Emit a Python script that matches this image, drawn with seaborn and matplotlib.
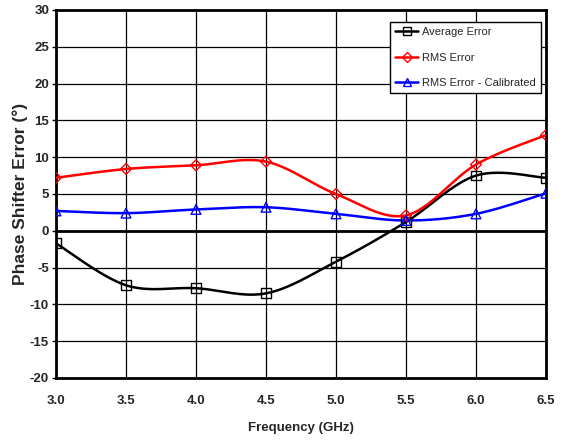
import numpy as np
import pandas as pd
import matplotlib
matplotlib.use("Agg")
import matplotlib.pyplot as plt
from matplotlib.lines import Line2D
import seaborn as sns

freq = [3.0, 3.5, 4.0, 4.5, 5.0, 5.5, 6.0, 6.5]
avg_error = [-1.7, -7.4, -7.8, -8.5, -4.2, 1.2, 7.5, 7.2]
rms_error = [7.2, 8.4, 8.9, 9.4, 5.0, 2.1, 9.0, 13.0]
rms_cal = [2.7, 2.4, 2.9, 3.2, 2.3, 1.4, 2.3, 5.1]
x_ticks = [3.0, 3.5, 4.0, 4.5, 5.0, 5.5, 6.0, 6.5]
y_ticks = [-20, -15, -10, -5, 0, 5, 10, 15, 20, 25, 30]


def smooth(x, y, n=30):
    # Excel-like smoothed line: cubic bezier with catmull-rom control points
    x = np.asarray(x, float)
    y = np.asarray(y, float)
    px, py = [], []
    for i in range(len(x) - 1):
        i0 = max(i - 1, 0)
        i3 = min(i + 2, len(x) - 1)
        c1x = x[i] + (x[i + 1] - x[i0]) / 6
        c1y = y[i] + (y[i + 1] - y[i0]) / 6
        c2x = x[i + 1] - (x[i3] - x[i]) / 6
        c2y = y[i + 1] - (y[i3] - y[i]) / 6
        t = np.linspace(0, 1, n)
        b = [(1 - t) ** 3, 3 * (1 - t) ** 2 * t, 3 * (1 - t) * t ** 2, t ** 3]
        px.extend(b[0] * x[i] + b[1] * c1x + b[2] * c2x + b[3] * x[i + 1])
        py.extend(b[0] * y[i] + b[1] * c1y + b[2] * c2y + b[3] * y[i + 1])
    return px, py


sns.set_style("white")
plt.rcParams['font.family'] = ['Liberation Sans', 'DejaVu Sans']

fig = plt.figure(figsize=(5.61, 4.41), dpi=100)
ax = fig.add_axes([56 / 561, 63 / 441, 490 / 561, 368 / 441])

series = [
    ("Average Error", avg_error, "black", "s", 7),
    ("RMS Error", rms_error, "red", "D", 5.5),
    ("RMS Error - Calibrated", rms_cal, "blue", "^", 7),
]

ax.grid(True, color="black", linewidth=0.9)
ax.set_axisbelow(True)
ax.axhline(0, color="black", linewidth=2, zorder=2)

handles = []
for name, vals, color, marker, ms in series:
    sx, sy = smooth(freq, vals)
    ax.plot(sx, sy, color=color, linewidth=1.8, zorder=3)
    df = pd.DataFrame({"x": freq, "y": vals})
    sns.scatterplot(data=df, x="x", y="y", ax=ax, marker=marker, s=ms ** 2,
                    facecolor="none", edgecolor=color, linewidth=1.0,
                    zorder=4, legend=False)
    handles.append(Line2D([0], [0], color=color, linewidth=1.8, marker=marker,
                          markersize=ms * 0.85, markerfacecolor="none",
                          markeredgecolor=color, markeredgewidth=1.0, label=name))

ax.set_xlim(3.0, 6.5)
ax.set_ylim(-20, 30)
ax.set_xticks(x_ticks)
ax.set_yticks(y_ticks)
ax.set_xticklabels([f"{v:.1f}" for v in x_ticks], fontsize=9.5, fontweight="bold")
ax.set_yticklabels([str(v) for v in y_ticks], fontsize=9.5, fontweight="bold")
ax.tick_params(axis="x", length=0, pad=12)
ax.tick_params(axis="y", left=True, length=3, width=1, color="black", pad=2)
for sp in ax.spines.values():
    sp.set_color("black")
    sp.set_linewidth(2)

ax.set_xlabel("Frequency (GHz)", fontsize=9.5, fontweight="bold", labelpad=11)
ax.set_ylabel("Phase Shifter Error (°)", fontsize=12.5, fontweight="bold")
ax.yaxis.set_label_coords(-0.057, 0.5)

leg = ax.legend(handles=handles, loc="upper right", bbox_to_anchor=(0.99, 0.967),
                fontsize=8, frameon=True, fancybox=False, framealpha=1,
                edgecolor="black", handlelength=2.1, handletextpad=0.35,
                labelspacing=1.4, borderpad=0.45, borderaxespad=0)
leg.get_frame().set_linewidth(1.0)

fig.savefig("out.png", dpi=100)
